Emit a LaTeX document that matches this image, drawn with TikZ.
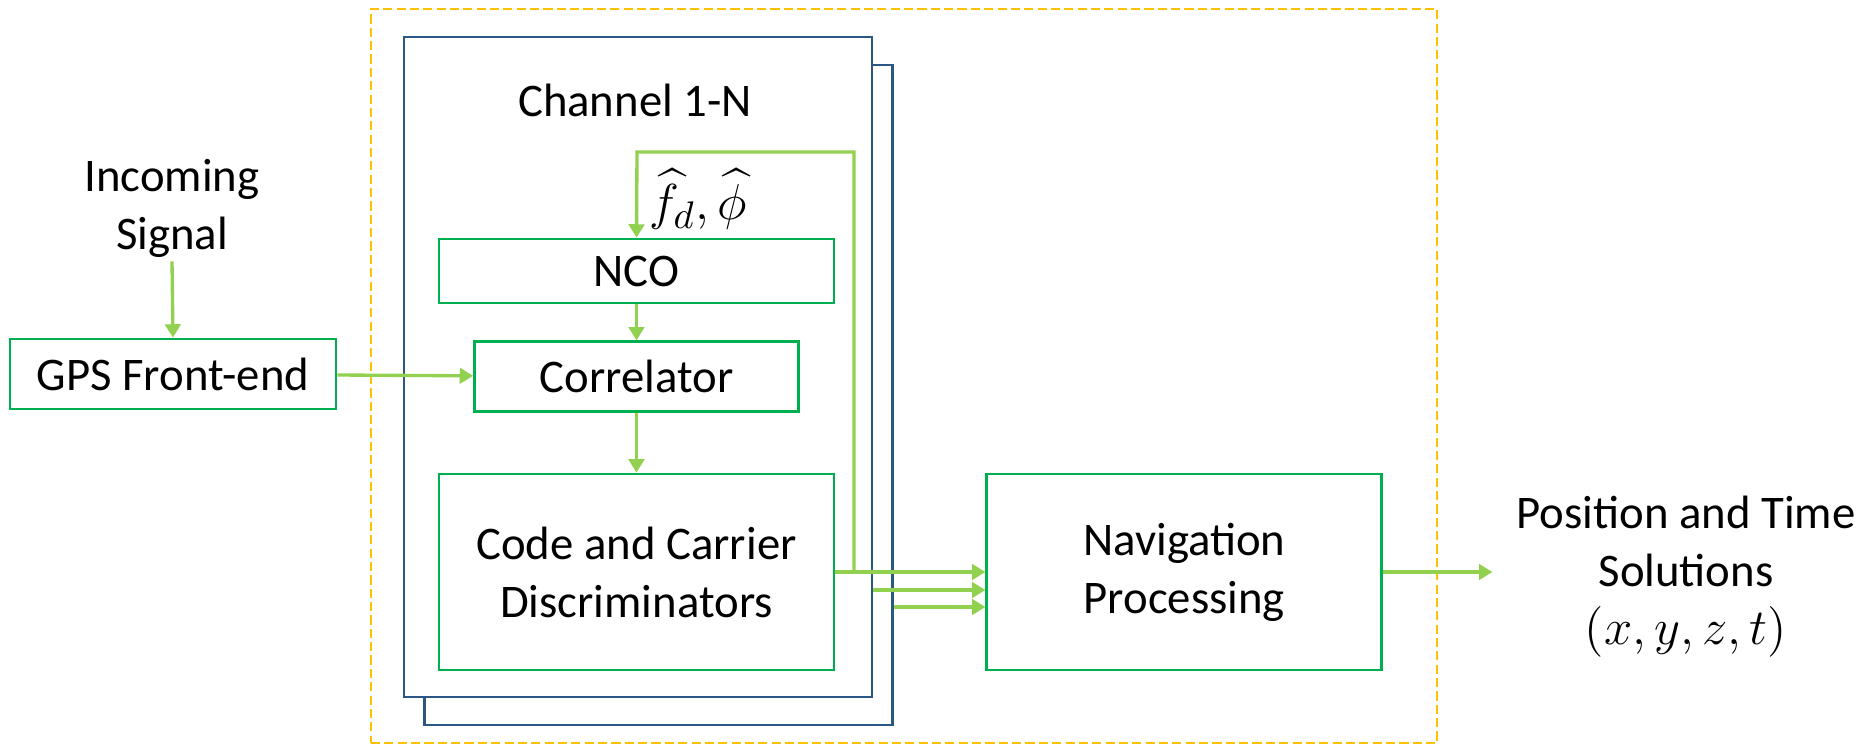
\documentclass[tikz,border=0pt]{standalone}
\usepackage{fontspec}
\setmainfont{Carlito}
\usepackage{amsmath}
\usepackage{xcolor}
\usepackage{tikz}
\usetikzlibrary{positioning,arrows.meta}

\definecolor{boxgreen}{HTML}{00B050}
\definecolor{arrowgreen}{HTML}{92D050}
\definecolor{chanblue}{HTML}{2A5784}
\definecolor{frameyellow}{HTML}{FFC000}

\begin{document}
\begin{tikzpicture}[
    font=\fontsize{13.3}{16.5}\selectfont,
    box/.style={
        draw=boxgreen,
        line width=0.8pt,
        fill=white,
        minimum width=39.5mm,
        minimum height=6.4mm,
        align=center,
        inner sep=0pt,
    },
    chanbox/.style={
        draw=chanblue,
        line width=0.6pt,
        fill=white,
        minimum width=46.8mm,
        minimum height=66mm,
        inner sep=0pt,
    },
    txt/.style={align=center, inner sep=1pt},
    arrow/.style={-{Triangle[length=3.8pt,width=4.4pt]}, draw=arrowgreen, line width=0.95pt},
]
\useasboundingbox (0,0) rectangle (18.74,7.44);

% ----- Outer dashed frame -----
\node[draw=frameyellow, line width=0.5pt, dash pattern=on 2.6pt off 1.2pt,
      minimum width=106.6mm, minimum height=73.4mm, inner sep=0pt] (frame) at (9.04,3.68) {};

% ----- Channel stack -----
\node[chanbox] (chanback) at (6.585,3.49) {};
\node[chanbox] (chan) at (6.38,3.77) {};
\node[txt] (chantitle) at (6.35,6.44) {Channel 1-N};

% ----- Nodes -----
\node[txt] (incoming) at (1.72,5.36) {Incoming\\Signal};
\node[box, minimum width=32.6mm, minimum height=7mm] (gps) at (1.73,3.70) {GPS Front-end};
\node[box] (nco) at (6.365,4.73) {NCO};
\node[box, minimum width=32.4mm, minimum height=7mm, below=3.6mm of nco] (corr) {Correlator};
\node[box, minimum height=19.6mm] (disc) at (6.365,1.72) {Code and Carrier\\Discriminators};
\node[box, minimum height=19.6mm, right=15mm of disc] (nav) {Navigation\\Processing};
\node[txt] (solution) at (16.86,1.67) {Position and Time\\Solutions\\$(x,y,z,t)$};
\node[txt, anchor=west, font=\fontsize{15.5}{18}\selectfont] (estim) at (6.45,5.45) {$\widehat{f}_d,\widehat{\phi}$};

% ----- Arrows -----
\draw[arrow] (incoming.south) -- (gps.north);
\draw[arrow] (gps) -- (corr);
\draw[arrow] (nco) -- (corr);
\draw[arrow] (corr) -- (disc);
\draw[arrow] (disc.east) -- (nav.west);
\draw[arrow, shorten >=2mm] (nav.east) -- (nav.east -| solution.west);

% ----- Outputs of the other channels -----
\coordinate (in2) at ([yshift=-1.8mm]nav.west);
\coordinate (in3) at ([yshift=-3.5mm]nav.west);
\draw[arrow] (in2 -| chan.east) -- (in2);
\draw[arrow] (in3 -| chanback.east) -- (in3);

% ----- Feedback loop to NCO -----
\coordinate (tap) at (8.54,1.72);
\draw[arrow] (tap) |- (6.37,5.92) -- (nco.north);

\end{tikzpicture}
\end{document}
